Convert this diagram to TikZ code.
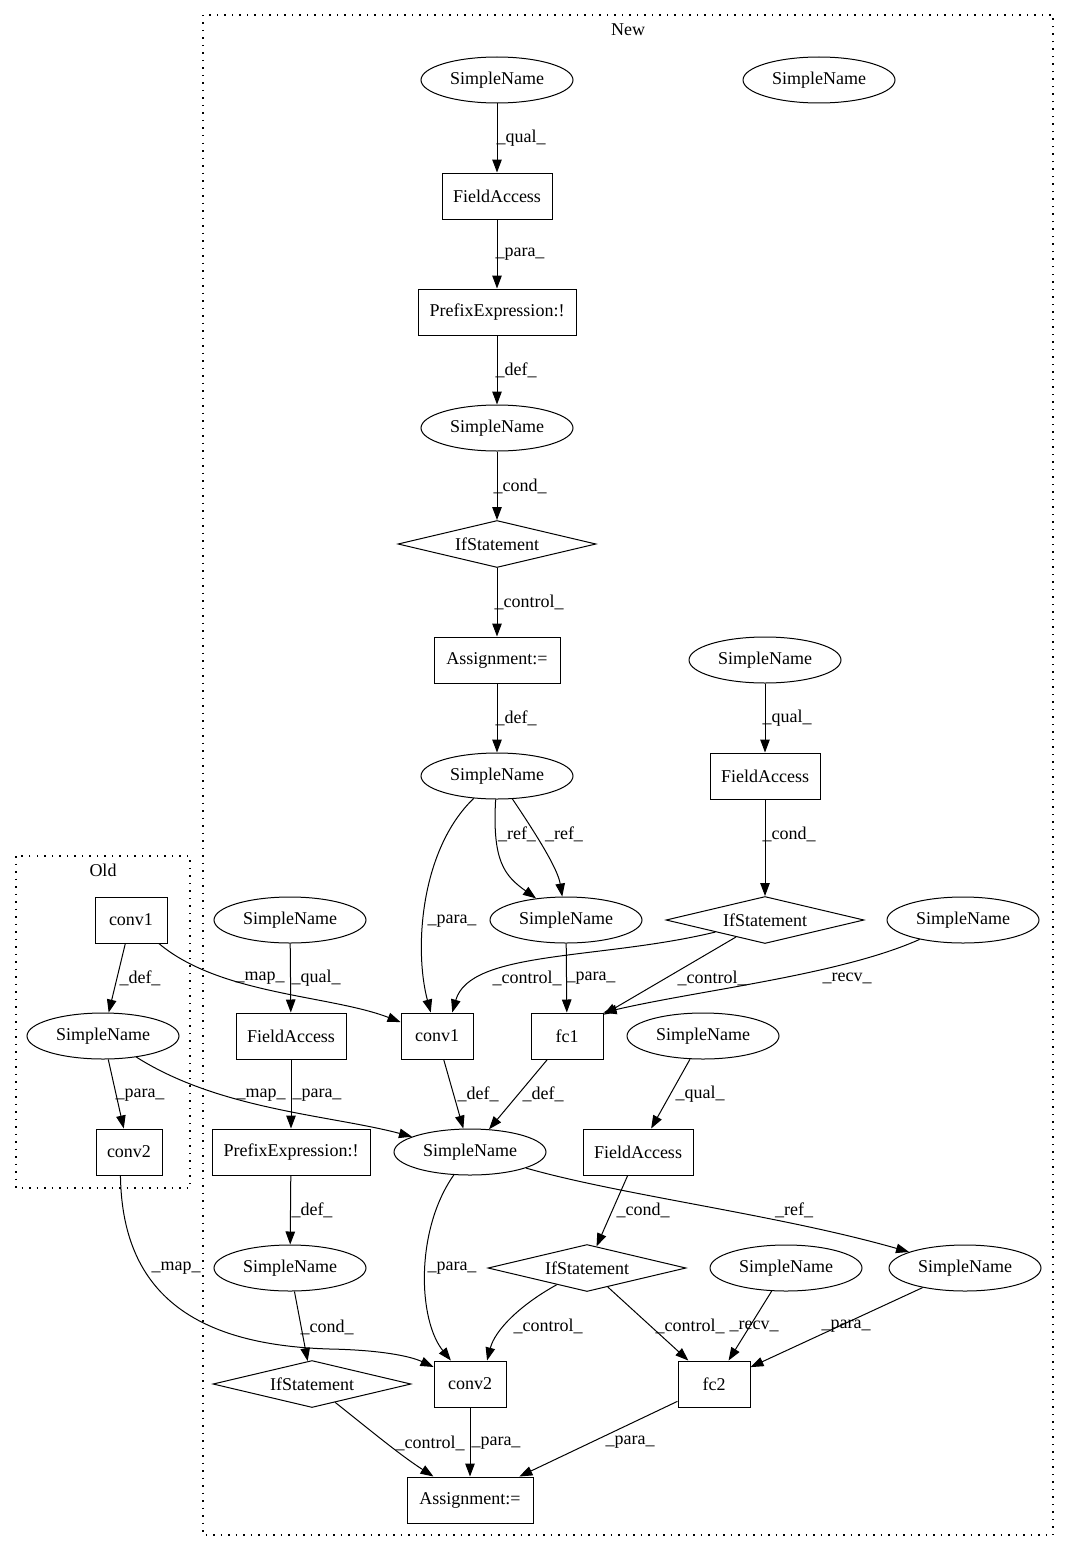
\documentclass[tikz,border=0pt]{standalone}
\usepackage{fontspec}
\setmainfont{Liberation Serif}
\usetikzlibrary{shapes.geometric,arrows.meta}
\begin{document}
\begin{tikzpicture}[x=1pt,y=-1pt,
  every node/.style={font=\fontsize{18}{20}\selectfont},
  sn/.style={draw,ellipse,line width=1pt,minimum width=152,minimum height=46,inner sep=0},
  bx/.style={draw,rectangle,line width=1pt,minimum height=46,inner sep=0},
  ifs/.style={draw,diamond,aspect=4,line width=1pt,minimum width=198,minimum height=47,inner sep=0},
  e/.style={line width=1pt,-{Triangle[length=13pt,width=9.5pt]}},
  lbl/.style={inner sep=0},
  clus/.style={line width=1.1pt,dash pattern=on 1.5pt off 6pt}]
\useasboundingbox (0,0) rectangle (1069,1552);
% clusters
\draw[clus] (203,15) rectangle (1053,1535);
\node[lbl] (tnew) at (628,30) {New};
\draw[clus] (16,856) rectangle (190,1188);
\node[lbl] (told) at (103,870) {Old};
% nodes
\node[sn] (sn1) at (497,80) {SimpleName};
\node[sn] (sn2) at (819,80) {SimpleName};
\node[bx,minimum width=110] (fa1) at (497,196) {FieldAccess};
\node[bx,minimum width=158] (pe1) at (497,312) {PrefixExpression:!};
\node[sn] (sn3) at (497,428) {SimpleName};
\node[ifs] (if1) at (497,544) {IfStatement};
\node[bx,minimum width=126] (as1) at (497,660) {Assignment:=};
\node[sn] (sn4) at (497,776) {SimpleName};
\node[sn] (sn5) at (765,660) {SimpleName};
\node[bx,minimum width=110] (fa2) at (765,776) {FieldAccess};
\node[ifs] (if2) at (765,920) {IfStatement};
\node[sn] (sn6) at (566,920) {SimpleName};
\node[sn] (sn7) at (963,920) {SimpleName};
\node[sn] (sn8) at (290,920) {SimpleName};
\node[bx,minimum width=110] (fa3) at (291,1036) {FieldAccess};
\node[bx,minimum width=72] (c1n) at (437,1036) {conv1};
\node[bx,minimum width=72] (fc1) at (567,1036) {fc1};
\node[sn] (sn9) at (703,1036) {SimpleName};
\node[bx,minimum width=158] (pe2) at (291,1152) {PrefixExpression:!};
\node[sn] (sn10) at (470,1152) {SimpleName};
\node[bx,minimum width=110] (fa4) at (638,1152) {FieldAccess};
\node[sn] (sn11) at (290,1268) {SimpleName};
\node[ifs] (if3) at (587,1268) {IfStatement};
\node[sn] (sn12) at (786,1268) {SimpleName};
\node[sn] (sn13) at (965,1268) {SimpleName};
\node[ifs] (if4) at (312,1384) {IfStatement};
\node[bx,minimum width=72] (c2n) at (470,1384) {conv2};
\node[bx,minimum width=72] (fc2) at (714,1384) {fc2};
\node[bx,minimum width=126] (as2) at (470,1500) {Assignment:=};
\node[bx,minimum width=72] (c1o) at (131,920) {conv1};
\node[sn] (sno) at (103,1036) {SimpleName};
\node[bx,minimum width=66] (c2o) at (129,1152) {conv2};
% edges
\draw[e] (sn1) -- (fa1);
\node[lbl] (l1) at (521,138) {\_qual\_};
\draw[e] (fa1) -- (pe1);
\node[lbl] (l2) at (520,254) {\_para\_};
\draw[e] (pe1) -- (sn3);
\node[lbl] (l3) at (516,370) {\_def\_};
\draw[e] (sn3) -- (if1);
\node[lbl] (l4) at (520,486) {\_cond\_};
\draw[e] (if1) -- (as1);
\node[lbl] (l5) at (529,602) {\_control\_};
\draw[e] (as1) -- (sn4);
\node[lbl] (l6) at (516,718) {\_def\_};
\draw[e] (sn5) -- (fa2);
\node[lbl] (l7) at (787,718) {\_qual\_};
\draw[e] (fa2) -- (if2);
\node[lbl] (l8) at (789,834) {\_cond\_};
\draw[e] (sn4) .. controls (492,862) and (505,876) .. (sn6);
\node[lbl] (l9) at (517,834) {\_ref\_};
\draw[e] (sn4) .. controls (540,840) and (558,870) .. (sn6);
\node[lbl] (l10) at (564,834) {\_ref\_};
\draw[e] (sn4) .. controls (420,850) and (414,950) .. (c1n);
\node[lbl] (l11) at (452,921) {\_para\_};
\draw[e] (if2) .. controls (600,960) and (470,950) .. (c1n.57);
\node[lbl] (l12) at (527,978) {\_control\_};
\draw[e] (sn6) -- (fc1);
\node[lbl] (l13) at (591,978) {\_para\_};
\draw[e] (if2) -- (fc1);
\node[lbl] (l14) at (712,978) {\_control\_};
\draw[e] (sn7) .. controls (840,975) and (700,990) .. (fc1.north east);
\node[lbl] (l15) at (847,978) {\_recv\_};
\draw[e] (c1o) .. controls (220,995) and (330,995) .. (c1n);
\node[lbl] (l16) at (260,978) {\_map\_};
\draw[e] (sn8) -- (fa3);
\node[lbl] (l17) at (316,978) {\_qual\_};
\draw[e] (c1o) -- (sno);
\node[lbl] (l18) at (140,978) {\_def\_};
\draw[e] (sno) -- (c2o);
\node[lbl] (l19) at (140,1095) {\_para\_};
\draw[e] (sno) .. controls (220,1110) and (330,1115) .. (sn10);
\node[lbl] (l20) at (261,1095) {\_map\_};
\draw[e] (fa3) -- (pe2);
\node[lbl] (l21) at (317,1095) {\_para\_};
\draw[e] (c1n) -- (sn10);
\node[lbl] (l22) at (478,1094) {\_def\_};
\draw[e] (fc1) -- (sn10);
\node[lbl] (l23) at (543,1094) {\_def\_};
\draw[e] (sn9) -- (fa4);
\node[lbl] (l24) at (700,1094) {\_qual\_};
\draw[e] (fa4) -- (if3);
\node[lbl] (l25) at (643,1210) {\_cond\_};
\draw[e] (sn10) .. controls (620,1195) and (780,1215) .. (sn13);
\node[lbl] (l26) at (794,1210) {\_ref\_};
\draw[e] (pe2) -- (sn11);
\node[lbl] (l27) at (312,1210) {\_def\_};
\draw[e] (c2o.250) .. controls (122,1290) and (190,1345) .. (330,1349) .. controls (380,1350) and (410,1356) .. (c2n);
\node[lbl] (l28) at (176,1268) {\_map\_};
\draw[e] (sn10) .. controls (415,1230) and (418,1320) .. (c2n);
\node[lbl] (l29) at (452,1268) {\_para\_};
\draw[e] (sn11) -- (if4);
\node[lbl] (l30) at (327,1327) {\_cond\_};
\draw[e] (if3) .. controls (520,1305) and (495,1330) .. (c2n.54);
\node[lbl] (l31) at (548,1326) {\_control\_};
\draw[e] (if3) -- (fc2);
\node[lbl] (l32) at (690,1326) {\_control\_};
\draw[e] (sn12) -- (fc2);
\node[lbl] (l33) at (754,1326) {\_recv\_};
\draw[e] (sn13) -- (fc2);
\node[lbl] (l34) at (846,1326) {\_para\_};
\draw[e] (if4) .. controls (370,1430) and (400,1455) .. (as2);
\node[lbl] (l35) at (430,1443) {\_control\_};
\draw[e] (c2n) -- (as2);
\node[lbl] (l36) at (496,1443) {\_para\_};
\draw[e] (fc2) -- (as2);
\node[lbl] (l37) at (630,1442) {\_para\_};
\end{tikzpicture}
\end{document}
